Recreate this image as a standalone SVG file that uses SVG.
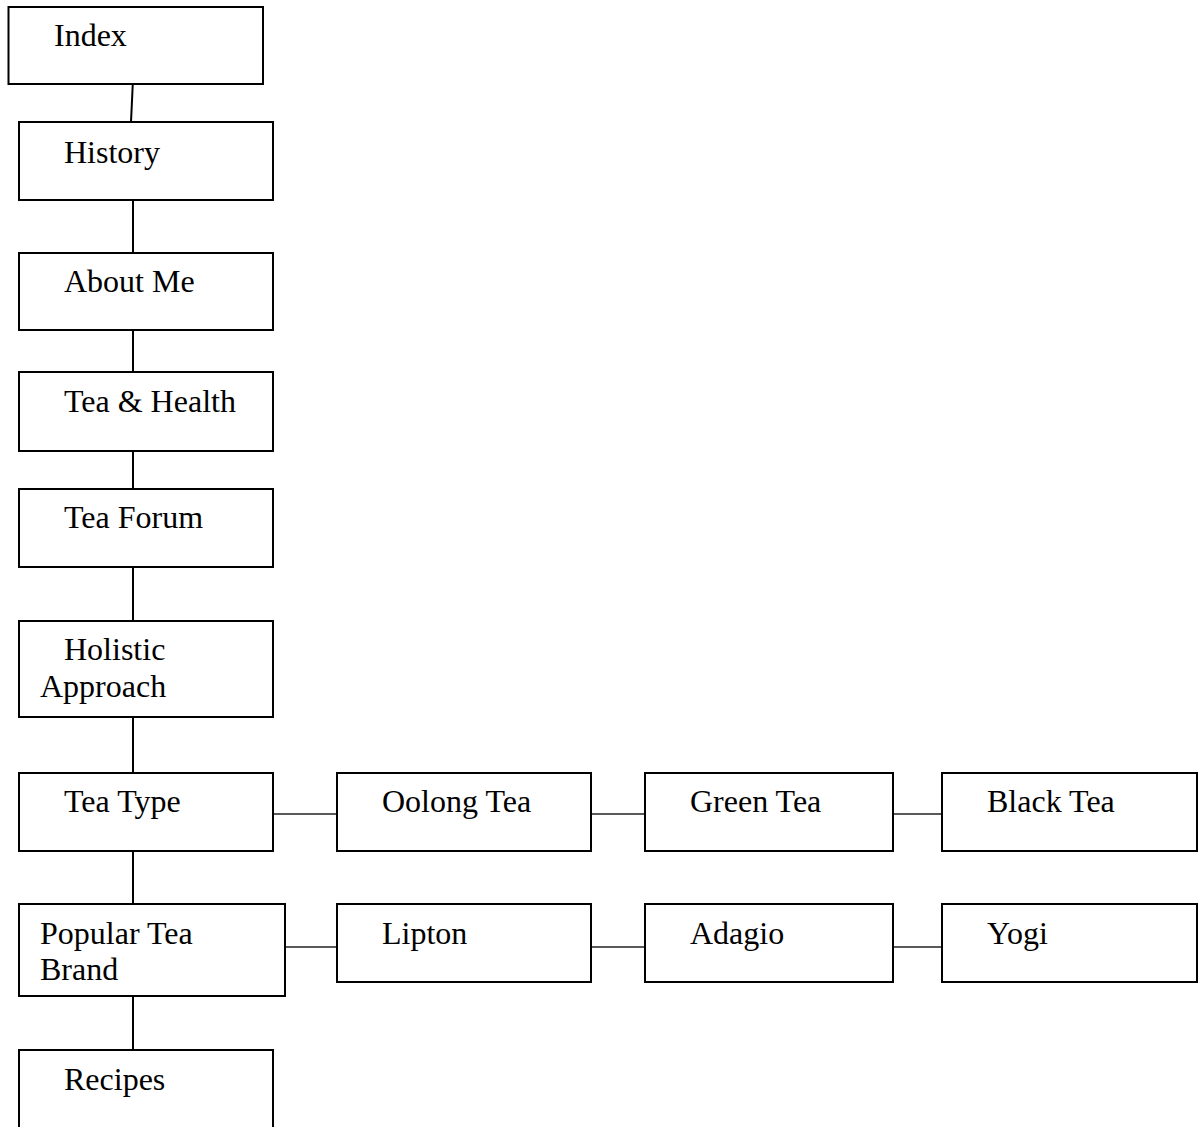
<svg xmlns="http://www.w3.org/2000/svg" width="1202" height="1127" viewBox="0 0 1202 1127">
<style>
.box{fill:#fff;stroke:#000;stroke-width:2}
.lbl{font-family:"Liberation Serif","Times New Roman",serif;font-size:32px;fill:#000}
.c{stroke:#000;stroke-width:2;fill:none}
.h{stroke:#222;stroke-width:1.6;fill:none}
</style>
<rect width="1202" height="1127" fill="#fff"/>
<g id="connectors">
<line class="c" x1="133" y1="79" x2="131" y2="122"/>
<line class="c" x1="133" y1="200" x2="133" y2="253"/>
<line class="c" x1="133" y1="330" x2="133" y2="372"/>
<line class="c" x1="133" y1="451" x2="133" y2="489"/>
<line class="c" x1="133" y1="567" x2="133" y2="621"/>
<line class="c" x1="133" y1="717" x2="133" y2="773"/>
<line class="c" x1="133" y1="851" x2="133" y2="904"/>
<line class="c" x1="133" y1="996" x2="133" y2="1050"/>
<line class="h" x1="273" y1="814" x2="337" y2="814"/>
<line class="h" x1="591" y1="814" x2="645" y2="814"/>
<line class="h" x1="893" y1="814" x2="942" y2="814"/>
<line class="h" x1="285" y1="947" x2="337" y2="947"/>
<line class="h" x1="591" y1="947" x2="645" y2="947"/>
<line class="h" x1="893" y1="947" x2="942" y2="947"/>
</g>
<g id="index"><rect class="box" x="8.5" y="7" width="254.5" height="77"/><text class="lbl" x="54" y="46">Index</text></g>
<g id="history"><rect class="box" x="19" y="122" width="254" height="78"/><text class="lbl" x="64" y="163">History</text></g>
<g id="about-me"><rect class="box" x="19" y="253" width="254" height="77"/><text class="lbl" x="64" y="292">About Me</text></g>
<g id="tea-health"><rect class="box" x="19" y="372" width="254" height="79"/><text class="lbl" x="64" y="412">Tea &amp; Health</text></g>
<g id="tea-forum"><rect class="box" x="19" y="489" width="254" height="78"/><text class="lbl" x="64" y="528">Tea Forum</text></g>
<g id="holistic"><rect class="box" x="19" y="621" width="254" height="96"/><text class="lbl" x="64" y="660">Holistic</text><text class="lbl" x="40" y="697">Approach</text></g>
<g id="tea-type"><rect class="box" x="19" y="773" width="254" height="78"/><text class="lbl" x="64" y="812">Tea Type</text></g>
<g id="oolong"><rect class="box" x="337" y="773" width="254" height="78"/><text class="lbl" x="382" y="812">Oolong Tea</text></g>
<g id="green"><rect class="box" x="645" y="773" width="248" height="78"/><text class="lbl" x="690" y="812">Green Tea</text></g>
<g id="black"><rect class="box" x="942" y="773" width="255" height="78"/><text class="lbl" x="987" y="812">Black Tea</text></g>
<g id="popular"><rect class="box" x="19" y="904" width="266" height="92"/><text class="lbl" x="40" y="944">Popular Tea</text><text class="lbl" x="40" y="980">Brand</text></g>
<g id="lipton"><rect class="box" x="337" y="904" width="254" height="78"/><text class="lbl" x="382" y="944">Lipton</text></g>
<g id="adagio"><rect class="box" x="645" y="904" width="248" height="78"/><text class="lbl" x="690" y="944">Adagio</text></g>
<g id="yogi"><rect class="box" x="942" y="904" width="255" height="78"/><text class="lbl" x="987" y="944">Yogi</text></g>
<g id="recipes"><rect class="box" x="19" y="1050" width="254" height="90"/><text class="lbl" x="64" y="1090">Recipes</text></g>
</svg>
